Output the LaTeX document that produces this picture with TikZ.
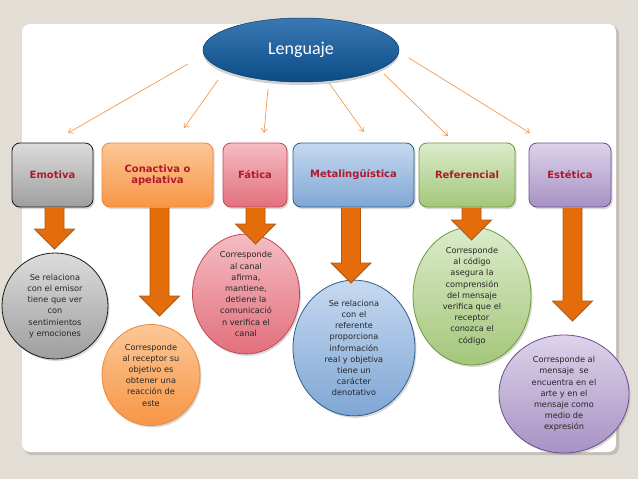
\documentclass[tikz,border=0pt]{standalone}
\usepackage{fontspec}
\setmainfont{DejaVu Sans}
\newfontfamily\lfont{Carlito}
\usetikzlibrary{shapes.geometric,shadows,arrows.meta,calc}
\definecolor{bgc}{HTML}{E3DED5}
\definecolor{panelsh}{HTML}{C4BFB6}
\definecolor{thinor}{HTML}{F39A4C}
\definecolor{barfill}{HTML}{E46C0A}
\definecolor{barline}{HTML}{B35A10}
\definecolor{lbl}{HTML}{B0182C}
\definecolor{txt}{HTML}{262626}
\definecolor{lngtop}{HTML}{3A78B5}
\definecolor{lngbot}{HTML}{0B4C85}
\definecolor{gyT}{HTML}{DCDCDC}\definecolor{gyB}{HTML}{9E9E9E}\definecolor{gyL}{HTML}{1A1A1A}
\definecolor{orT}{HTML}{FCC796}\definecolor{orB}{HTML}{F79646}\definecolor{orL}{HTML}{E98A3A}
\definecolor{pkT}{HTML}{F5BCC2}\definecolor{pkB}{HTML}{E2707C}\definecolor{pkL}{HTML}{BE4B56}
\definecolor{blT}{HTML}{C6D9F0}\definecolor{blB}{HTML}{7FA6D4}\definecolor{blL}{HTML}{2F5D8C}
\definecolor{grT}{HTML}{DCEBCB}\definecolor{grB}{HTML}{A3C77A}\definecolor{grL}{HTML}{6E9A3C}
\definecolor{puT}{HTML}{DDD3EA}\definecolor{puB}{HTML}{A792C4}\definecolor{puL}{HTML}{6B4F8E}
\tikzset{
  shd/.style={drop shadow={opacity=0.3,shadow xshift=1.5pt,shadow yshift=-2pt}},
  catbox/.style={rounded corners=8pt, minimum height=64pt, inner sep=2pt, align=center,
     font=\fontsize{10}{10.5}\selectfont\bfseries, text=lbl, line width=0.8pt, shd},
  bub/.style={ellipse, inner sep=0pt, align=center, text=txt,
     font=\fontsize{8.2}{11.2}\selectfont, line width=0.8pt, shd},
  thinarr/.style={draw=thinor, line width=0.7pt, -{Straight Barb[length=4pt,width=6pt]}},
  barrowst/.style={fill=barfill, draw=barline, line width=0.8pt, line join=miter},
  gy/.style={top color=gyT, bottom color=gyB, draw=gyL},
  orc/.style={top color=orT, bottom color=orB, draw=orL},
  pk/.style={top color=pkT, bottom color=pkB, draw=pkL},
  bl/.style={top color=blT, bottom color=blB, draw=blL},
  gr/.style={top color=grT, bottom color=grB, draw=grL},
  pu/.style={top color=puT, bottom color=puB, draw=puL},
}
\newcommand\barrow[3]{% x centre, y of box bottom, y of tip
  \filldraw[barrowst] (#1-9.5,#2) -- (#1-9.5,#3-20) -- (#1-20,#3-20) -- (#1,#3)
     -- (#1+20,#3-20) -- (#1+9.5,#3-20) -- (#1+9.5,#2);
}
\begin{document}
\begin{tikzpicture}[x=1pt,y=-1pt]
\fill[bgc] (0,0) rectangle (638,479);
\useasboundingbox (0,0) rectangle (638,479);
\fill[panelsh, rounded corners=8pt] (24,26) rectangle (619,455);
\fill[white, rounded corners=8pt] (22,24) rectangle (616,452);

% top ellipse
\node[ellipse, minimum width=196pt, minimum height=64pt, inner sep=0pt,
      top color=lngtop, bottom color=lngbot, draw=lngbot!80!black, line width=0.5pt,
      drop shadow={opacity=0.35,shadow xshift=0pt,shadow yshift=-3pt},
      text=white, font=\lfont\fontsize{18}{20}\selectfont] (lang) at (301,50) {Lenguaje};

% category boxes
\node[catbox, gy, minimum width=81pt]  (emo) at (52.5,175) {Emotiva};
\node[catbox, orc, minimum width=111pt] (con) at (157.5,175) {Conactiva o\\apelativa};
\node[catbox, pk, minimum width=64pt]  (fat) at (255,175) {Fática};
\node[catbox, bl, minimum width=121pt] (met) at (353.5,175) {Metalingüística};
\node[catbox, gr, minimum width=96pt]  (ref) at (467,175) {Referencial};
\node[catbox, pu, minimum width=82pt]  (est) at (570,175) {Estética};

% thin arrows
\coordinate (s1) at (188,64);  \coordinate (e1) at (68,133);
\coordinate (s2) at (218,80);  \coordinate (e2) at (184,128);
\coordinate (s3) at (268,89);  \coordinate (e3) at (264,133);
\coordinate (s4) at (329,83);  \coordinate (e4) at (364,132);
\coordinate (s5) at (384,74);  \coordinate (e5) at (448,136);
\coordinate (s6) at (409,58);  \coordinate (e6) at (530,133);
\foreach \i in {1,...,6} \draw[thinarr] (s\i) -- (e\i);

% bubbles
\node[bub, gy, minimum width=106pt, minimum height=106pt] (emoC) at (55,306)
  {Se relaciona\\con el emisor\\tiene que ver\\con\\sentimientos\\y emociones};
\node[bub, orc, minimum width=98pt, minimum height=101pt] (conC) at (151,375)
  {Corresponde\\al receptor su\\objetivo es\\obtener una\\reacción de\\este};
\node[bub, pk, minimum width=107pt, minimum height=101pt] (fatC) at (246,294)
  {Corresponde\\al canal\\afirma,\\mantiene,\\detiene la\\comunicació\\n verifica el\\canal};
\node[bub, bl, minimum width=122pt, minimum height=107pt] (metC) at (354,348)
  {Se relaciona\\con el\\referente\\proporciona\\información\\real y objetiva\\tiene un\\carácter\\denotativo};
\node[bub, gr, minimum width=118pt, minimum height=118pt] (refC) at (472,296)
  {Corresponde\\al código\\asegura la\\comprensión\\del mensaje\\verifica que el\\receptor\\conozca el\\código};
\node[bub, pu, minimum width=130pt, minimum height=118pt] (estC) at (564,394)
  {Corresponde al\\mensaje\ \ se\\encuentra en el\\arte y en el\\mensaje como\\medio de\\expresión};

% block arrows
\barrow{54.5}{207.5}{249}
\barrow{159.5}{207.5}{316}
\barrow{255.5}{207.5}{244}
\barrow{351}{207.5}{283}
\barrow{471.5}{207.5}{240}
\barrow{572.5}{207.5}{321}
\end{tikzpicture}
\end{document}
